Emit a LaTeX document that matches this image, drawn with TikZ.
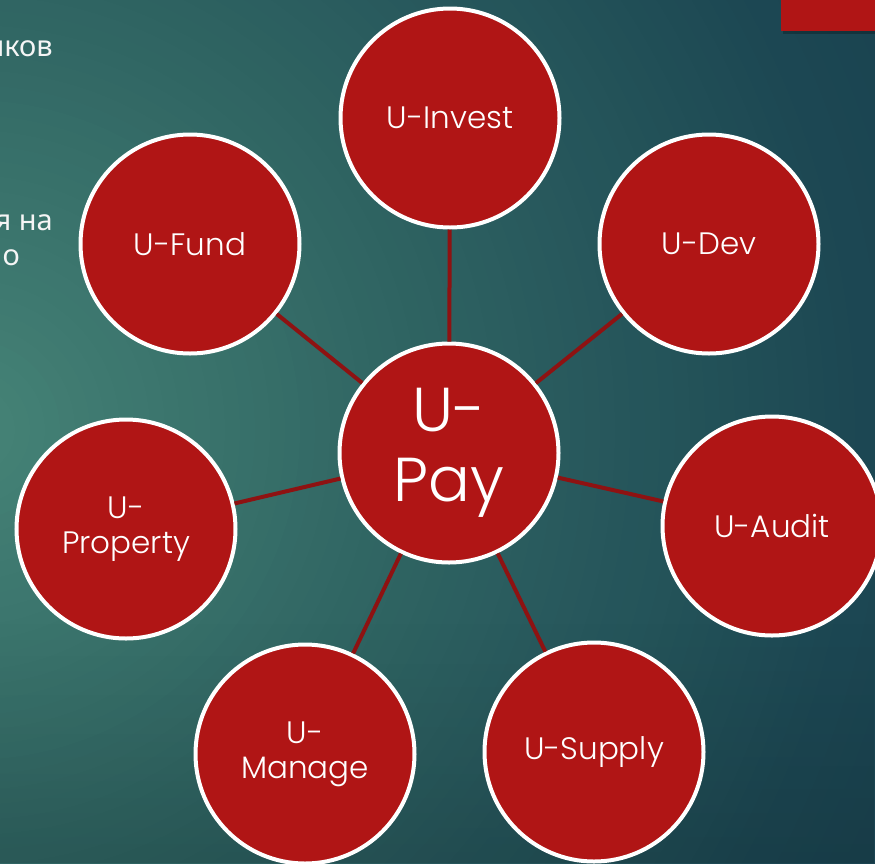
\documentclass[tikz,border=0pt]{standalone}
\usepackage{fontspec}
\setmainfont{Poppins}[UprightFont=* Light]
\newfontfamily\cyrfont{Noto Sans}
\usetikzlibrary{fadings}
\definecolor{bgA}{HTML}{468477}
\definecolor{bgB}{HTML}{2F6462}
\definecolor{bgC}{HTML}{1C4753}
\definecolor{bgD}{HTML}{173D4C}
\definecolor{bubble}{HTML}{B01515}
\definecolor{link}{HTML}{8E1212}
\tikzfading[name=fadebottom, top color=transparent!100, bottom color=transparent!0]
\tikzset{
  bubblenode/.style={circle, fill=bubble, draw=white, line width=4pt,
    minimum size=219pt, inner sep=0pt, text=white, align=center,
    font=\fontsize{31}{35}\selectfont},
  hubnode/.style={bubblenode, font=\fontsize{62}{70}\selectfont},
  linkline/.style={draw=link, line width=4pt},
  sidetext/.style={text=white!92!gray, font=\cyrfont\fontsize{29}{32}\selectfont, inner sep=0pt, anchor=base east}
}
\begin{document}
\begin{tikzpicture}[x=1pt,y=-1pt]
\useasboundingbox (0,0) rectangle (875,863);
\begin{scope}
  \clip (0,0) rectangle (875,863);
  \foreach \r in {1230,1215,...,0} {
    \pgfmathsetmacro\pa{min(100,\r/4.5)}
    \pgfmathsetmacro\pb{max(0,min(100,(\r-450)/4.5))}
    \pgfmathsetmacro\pc{max(0,min(100,(\r-900)/3.3))}
    \colorlet{cur}{bgB!\pa!bgA}
    \colorlet{cur}{bgC!\pb!cur}
    \colorlet{cur}{bgD!\pc!cur}
    \fill[cur] (-30,430) circle (\r pt);
  }
  \fill[black, opacity=0.12, path fading=fadebottom] (0,620) rectangle (875,863);
  \fill[black, opacity=0.25] (783,0) rectangle (875,34);
  \fill[bubble] (781,0) rectangle (875,31);
  \node[sidetext] (t1) at (53,56) {нков};
  \node[sidetext] (t2) at (53,230) {я на};
  \node[sidetext] (t3) at (20,265) {о};
  \node[hubnode] (pay) at (449,453) {U-\\Pay};
  \node[bubblenode] (invest) at (450,118) {U-Invest};
  \node[bubblenode] (dev) at (709,244) {U-Dev};
  \node[bubblenode] (fund) at (190,244) {U-Fund};
  \node[bubblenode] (audit) at (772,526) {U-Audit};
  \node[bubblenode] (prop) at (126,529) {U-\\Property};
  \node[bubblenode] (manage) at (305,754) {U-\\Manage};
  \node[bubblenode] (supply) at (594,752) {U-Supply};
  \foreach \n in {invest,dev,fund,audit,prop,manage,supply}
    \draw[linkline] (pay) -- (\n);
\end{scope}
\end{tikzpicture}
\end{document}
